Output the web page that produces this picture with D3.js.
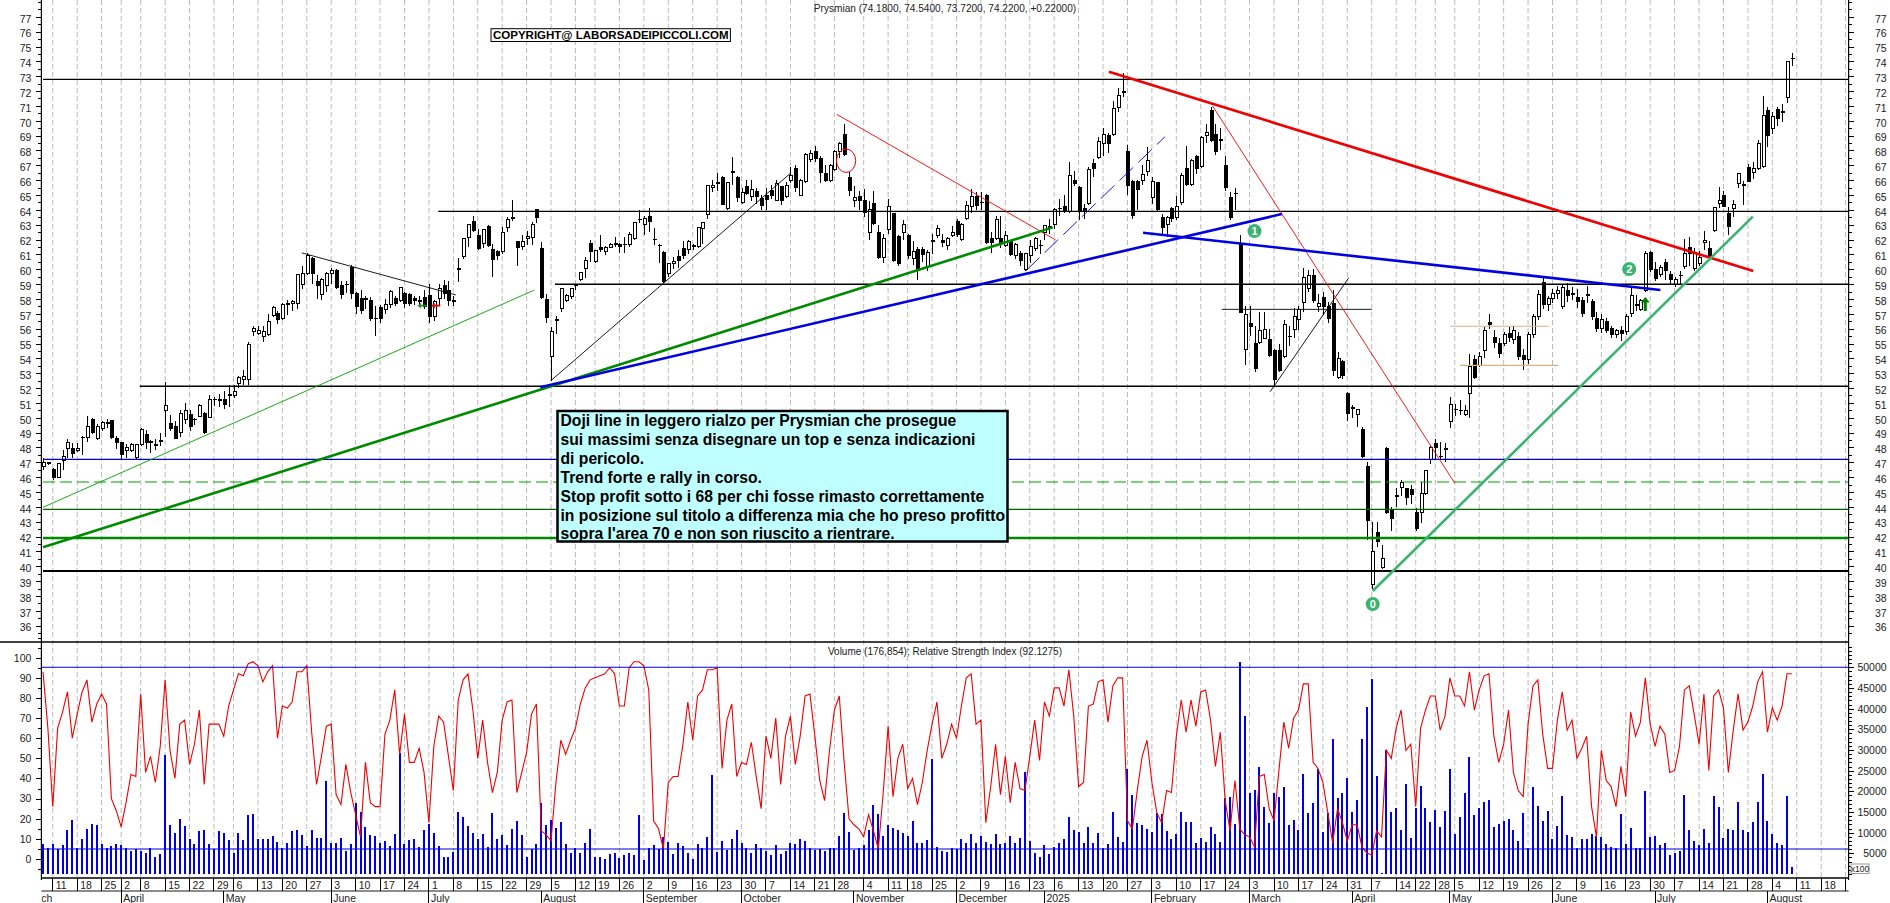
<!DOCTYPE html>
<html>
<head>
<meta charset="utf-8">
<title>Prysmian</title>
<script src="https://cdn.jsdelivr.net/npm/d3@7"></script>
<style>
html, body { margin: 0; padding: 0; background: #fff; overflow: hidden; }
svg { display: block; font-family: "Liberation Sans", Arial, sans-serif; }
.axis text { font-size: 10.5px; fill: #222; }
.axis path, .axis line { stroke: #000; shape-rendering: crispEdges; }
</style>
</head>
<body>
<div id="chart"></div>
<script>
// daily values, one column per array
const opens = [
46.75,47,46.5,46,47.1,47.9,47.9,47.8,48.7,48.7,
49.9,48.6,49.3,49.6,49.8,48.6,48.3,47.8,47.8,47.3,
48.2,48.9,48.4,48.2,48.4,50.5,49.6,49.4,49,49.9,
50.2,49.9,50.1,50.3,50,51.2,51.2,51.2,51.5,51.5,
52.3,52.6,52.6,55.8,55.7,55.5,55.6,56.9,57,56.7,
57.6,57.7,57.7,59,59.7,60.7,59.2,58.3,58.9,59.7,
59.9,58.9,59,60.1,58.4,58,58,57.9,56.7,57.4,
57.3,57.6,58,57.9,58.4,58.3,58,57.9,58.1,58.2,
56.8,58,58.9,58.6,57.9,60.05,60.84,62.14,63.2,62.3,
61.74,62.9,61.3,61.2,61.17,62.8,63.48,61.85,61.5,62.1,
62.14,64,61.4,57.95,54.15,56.6,57.36,57.92,58.15,58.95,
59.3,60.05,61.73,60.5,61.47,61.17,61.47,61.75,61.66,61.68,
61.7,62.05,63.37,63.04,63.53,62.03,61.62,61.13,59.7,60.4,
60.84,61.4,61.3,61.63,61.56,62.75,63.71,65.48,65.84,66.18,
64.09,66.58,66.2,64.5,65.55,64.9,65.25,64.77,65,65.3,
64.65,65.55,64.88,66,66.8,64.94,65.9,67.4,67.95,67.46,
66.47,66,66.7,67.9,69.1,66.2,64.65,64.9,64.6,62.5,
64.4,62.5,60.8,62.7,63.75,62.2,62.45,62.3,60.7,61.3,
61.3,60.2,61.92,62.3,61.96,61.6,62.3,63.2,62,63.4,
64.2,64.9,64.52,65,62.07,62.1,62.1,61.6,61.85,60.95,
61.05,59.95,60.9,61.4,61.62,62.5,62.85,63,64.12,64.2,
63.9,66,65.5,64.1,64.4,67.1,67.5,68.5,69,69.1,
70.9,71.97,67.9,65.9,65.9,66,66.6,64.8,65.85,63.5,
63,64.1,63.5,64.5,66.8,65.7,67.6,66.9,69,70.7,
69.1,68.72,67,64.8,65.12,61.64,54.6,56.36,54.97,55.1,
55.35,55.28,54.5,54.56,54.1,55.48,55.96,56.6,57.75,58.7,
59.6,57.5,58.1,57.5,57.7,52.7,53.8,51.6,50.66,50.25,
49.2,46.75,38.78,42.3,39.9,47.94,43.8,44.77,45.3,45.25,
45.14,43.6,43.6,44.9,47.2,48.28,47.42,47.85,49.74,50.58,
50.52,50.25,51.65,53.9,53.55,54.5,56.43,55.4,55,55,
55.7,55.3,55.5,54.2,53.9,55.6,56.8,59.1,57.6,58,
58.4,57.5,58.6,58.33,58.1,57.9,58.3,57.8,56.7,56,
56.5,56,55.6,55.9,55.8,57,57.62,57.3,58.6,61.1,
60,59.65,60.45,59.67,59,59.55,60.2,61.47,60.05,60.4,
61.8,61.4,62.63,64.43,65,63.76,64.1,65.8,65.66,66.85,
66.5,66.8,66.9,70.67,69.48,70.78,70.6,71.57,74.18];
const highs = [
47.3,47,46.6,46.9,47.8,48.6,48.3,48.3,48.75,50.1,
50,49.6,49.8,49.9,49.8,48.8,48.3,48.2,48.3,48.2,
49.3,49.2,48.5,48.6,49,52.4,50.2,49.8,50.5,51,
50.5,50,50.9,50.4,51.5,51.4,51.6,51.8,52.2,52.2,
52.8,53.2,55.1,56.2,56.2,56.2,57,57.5,57.2,57.7,
57.9,57.9,59.7,60.2,61.1,60.8,59.6,59.4,59.8,60.1,
60,59.2,59.2,60.3,58.5,58.6,58.2,58.1,57.5,57.6,
58,58.6,58.2,58.8,58.5,58.4,58.2,58.2,58.6,59,
57.9,59,59.3,59.2,58.2,60.73,62.1,63.05,63.58,62.7,
62.7,63,61.7,61.3,62.85,63.53,64.65,61.85,62.3,62.6,
63.15,64,61.85,58.3,56.1,56.85,58.7,58.3,58.7,59,
59.8,60.8,61.97,61.3,62.3,61.55,61.8,62.2,61.8,62.15,
62.5,63.2,63.98,63.6,64.1,62.75,61.7,61.2,60.4,60.85,
61.3,61.9,62,61.7,62.8,63.2,65.64,66,66.5,66.3,
65.9,67.57,66.3,65.5,66,66,65.5,65,65.5,65.7,
66,65.6,65.9,66.9,67,66.1,67.85,68,68.3,67.6,
67,67.1,68,68.6,69.8,66.56,65.6,65.3,65.4,64.6,
65.3,63,62.4,64.7,63.8,62.3,63.3,62.4,61.9,61.5,
61.5,61.3,62.4,63,62.4,62.2,62.9,63.4,63.1,64.6,
65.4,65.2,65.2,65.1,62.5,63.6,63.6,62.6,62,61.8,
61.2,61.1,62,62.2,62,63,63.4,64.1,64.7,65,
67.2,66.6,65.6,64.4,66.9,67.4,68.9,69.5,69.2,71.3,
72.2,73.2,68.4,66,66,67,68.2,66.2,65.9,63.7,
63.6,64.2,64.9,66.5,68.3,67.4,67.7,69,69.8,70.9,
69.8,69.5,67.6,65.2,65.5,62.3,57.5,57.5,56.2,57.1,
57.1,55.96,54.6,55,56.6,56.2,57.4,57.5,60.1,59.95,
60,58.3,58.5,57.8,58.6,54.45,53.9,51.76,50.85,50.6,
49.36,47,43,43,41.4,48,44,45.25,45.8,45.3,
45.5,43.9,45.7,46.5,48.1,48.6,48.4,48.3,51.4,50.95,
51.2,50.85,54.3,54.2,54.4,56.1,57,55.9,55.4,55.8,
56.1,56.2,55.8,54.6,55.8,57,58.6,59.5,58.2,58.7,
58.9,59,59.1,58.8,58.7,58.1,58.9,58,57.1,57,
56.7,56.2,56,56.2,57,58.8,58.25,58,61.2,61.2,
60.5,60.3,60.7,59.9,59.5,59.9,62.07,62.2,61.4,61.2,
62.6,61.9,64.2,65.55,65.3,64.2,64.65,66.45,65.95,67.1,
67.2,68.7,71.66,70.9,70.6,70.95,71.1,74,74.54];
const lows = [
46.5,46.8,45.8,46,46.5,47.3,47.3,47.7,47.5,48.4,
48.9,48.5,49.1,49.3,48.6,47.9,47.2,47.3,47.7,47.2,
48.1,47.9,47.6,47.8,48.1,48.7,49.1,48.6,48.7,49.6,
49.1,49.5,50.1,48.9,50,50.8,50.7,50.6,50.7,51.3,
52,52.2,52.2,55.5,55.6,55.1,55.5,56.8,56.3,56.6,
56.9,57.2,57.3,58.7,59.6,59,58,57.9,58.5,59,
58.7,58,58.4,58,57,57,57.3,56.5,55.5,56.4,
57,57.4,57.5,57.8,57.4,57.5,57.6,57.5,57.3,56.4,
56.5,57.5,58,57.5,57.5,59.15,60.7,61.5,62.5,61.3,
61.4,61.5,59.5,60.6,61,62.5,63.27,60.2,61.3,61.6,
61.6,63.1,58,56.4,52.5,55.65,57.1,57.8,58,58.6,
59.2,59.4,60.5,60.4,61.15,60.95,61.4,61.5,61.1,61.1,
61.5,62,63.1,62.3,62.5,61.6,60.4,59.05,59.5,60,
60.1,60.7,61,61.3,61.4,61.7,63.4,65.2,65.3,64.3,
64,65.7,64.5,64.4,65,64.6,64.4,64,64,64.7,
64.6,64.3,64.8,65.8,65.2,64.9,65.8,67.2,67.2,65.8,
65.9,65.9,66.6,67.5,67.6,64.9,64.2,64,63.5,62,
63,60.7,60.4,62.4,60.5,60.2,62,60.7,60.3,59.3,
60.5,59.9,61,62.1,61.5,61.3,62.2,62.2,61.9,63.3,
63.8,64,64,61.7,61.1,62,61.4,61.5,60.9,60.7,
60.2,59.9,60.4,61.2,61,62,62.4,62.7,63.6,63.8,
63.8,65.6,63.3,63.4,64.3,66.2,67.4,67.6,67.8,69,
70.6,71.6,65,63.4,64,65.7,66.3,64.4,63.9,62.4,
62.2,63.2,63.3,64.3,65.6,65.6,66.4,66.8,68.5,68.6,
67.7,68,65.3,63.3,64,57.05,53.56,55.5,53.1,54.97,
55.3,54.1,52.1,53.1,54,54.8,55.35,55.9,57.15,58.5,
57.7,57.1,56.9,56.4,52.8,52.6,52.6,49.8,50,49.36,
47.3,41.8,38.44,41.3,39.8,43.5,42.4,44,44.7,44.1,
44.2,42.4,42.9,44.8,46.9,47.2,47.16,47,49.3,50.1,
50.2,50.1,50,52.6,53.4,54,56,54.7,54,54.8,
55.1,55,53.9,53.2,53.6,55.4,56.6,57.3,57.2,57.7,
58,57.3,57.8,57.9,57.4,56.8,57.7,56.6,55.8,55.7,
55.7,55.4,55.4,55.2,55.6,56.8,57.2,57.2,58.5,59.8,
59.2,59.5,59.3,59,58.8,59,60,60.2,59.9,60.2,
61.3,60.6,62.5,64.1,64.2,62.3,63.55,65.5,64.36,65.85,
66.1,66.7,66.8,68.2,69.1,69.65,69.9,71.2,73.72];
const closes = [
47,46.9,46,46.9,47.4,48.3,47.6,47.9,48.65,49.4,
49,49.4,49.7,49.7,48.7,48.3,47.5,48,48.2,48.2,
49.2,48.3,48.35,48.15,48.45,50.8,49.3,48.6,50.3,50.5,
49.4,49.85,50.8,49,51.2,51.25,51.15,50.9,51.55,51.8,
52.7,52.8,54.9,56,55.9,55.8,56.5,57.4,56.6,57.6,
57.7,57.8,59.67,59.7,60.9,59.7,58.9,59.3,59.7,59.9,
58.8,58.3,58.95,58.4,57.5,57.2,57.95,56.7,56.65,56.7,
57.6,58.5,57.7,58.8,57.7,57.7,57.9,57.85,57.5,56.8,
57.8,58.7,58.4,57.9,57.85,60,62.07,63.02,62.6,61.4,
62.68,61.6,60.65,60.95,62.5,63.37,63.42,61.46,61.85,62.2,
63,63.5,58.1,56.75,55.79,56.55,58.7,58.26,58.7,58.9,
59.76,60.57,61.17,61.24,61.33,61.47,61.7,61.7,61.55,61.64,
62.34,63.13,63.33,63.42,63.2,61.97,61.58,59.15,60.39,60.5,
60.57,60.95,61.85,61.55,62.8,63.15,65.64,65.64,65.8,64.38,
65.82,66.52,64.83,65.17,65.1,65.4,64.88,64.32,64.7,65,
65.8,64.65,65.66,66.3,65.5,66,67.7,67.8,67.46,66.5,
66,67,67.9,68.5,67.7,65.3,64.8,64.6,63.85,64,
63.1,60.8,62.1,64.25,60.6,60.4,63,60.9,61.2,59.9,
61,61.1,61.88,62.75,61.8,62.07,62.5,62.36,63,64.3,
64.9,64.3,64.48,61.8,61.8,63.35,61.8,62.3,61,61.7,
60.6,61.05,61.5,62.07,61.58,62.97,62.75,64,64.08,63.9,
66.3,65.8,63.9,63.9,66.7,66.8,68.6,69.1,68.5,70.8,
71.7,71.93,65.66,63.6,65.4,66.4,67.3,65.9,64,62.8,
63.5,63.4,64.2,66.3,65.7,67.3,66.8,68.9,69.2,68.7,
67.9,68.68,65.5,63.5,65.08,57.1,56.97,56.14,53.3,55.9,
55.96,54.16,52.6,53.15,56.3,55.44,56.8,57.3,59.46,59.6,
57.9,57.7,57.5,56.65,53.2,54,52.84,50.3,50.62,50.57,
47.38,43.1,40.98,41.7,40.5,43.6,43.2,44.73,45.65,44.64,
44.8,42.56,44.9,46.44,48,48,47.38,47.95,50.9,50.56,
50.48,50.5,53.44,52.7,54.1,55.87,56.25,55.1,54.3,55.6,
55.4,55.9,54.1,53.9,55.6,56.8,58.3,57.6,58,58.4,
58.6,58.8,58.2,58.35,57.8,57,58.25,56.8,56,56.6,
55.9,55.6,55.9,55.7,56.8,58.2,57.58,57.9,61.06,60,
59.4,60.1,59.94,59.3,59.3,59.58,61.06,61.06,61.13,60.8,
61.96,60.84,64.16,64.6,64.25,62.9,64.36,66.45,65.68,65.9,
66.8,68.47,70.38,69,70.27,70.15,70.55,74,74.22];
const volumes = [
7300,6200,7300,6000,6900,10600,13100,6200,8500,10900,
12100,11800,7300,6200,6800,7300,6900,6200,5600,6000,
5600,5000,6400,4000,4800,28800,11900,10000,13400,11700,
8500,7300,10400,10600,7300,6000,10400,10000,8200,5200,
10000,8200,14300,14500,8500,8500,8500,9200,7700,6200,
7400,10400,10600,9400,6800,10600,8700,8700,22600,7400,
7400,8700,5600,7300,17100,14900,11400,9400,9200,7600,
8000,6800,9700,29200,7300,8200,8500,6600,10600,12100,
10000,6800,4000,4000,5400,15000,13900,11500,9800,8500,
9700,6500,14700,8500,9400,7000,10900,12800,9400,4000,
6000,7300,17100,11800,13100,11100,12600,7300,5200,6200,
5200,7600,10900,4000,4000,3700,4800,5200,3800,4600,
5000,4600,14300,3400,6200,7000,6000,8900,7800,4800,
7600,6800,5000,3600,7300,6200,8900,23900,5300,7900,
5800,8500,10600,7600,6400,5000,7300,6200,5600,4600,
6900,4800,5500,7400,7300,8500,7900,6200,5900,6000,
5600,6200,6400,9300,14800,10200,5700,6200,6900,10600,
16700,14600,9300,11800,11100,10600,9800,9200,12800,7400,
7400,8200,27700,6500,5600,5300,6200,6000,8500,7600,
9700,7600,9100,7800,7300,9700,7300,7600,9100,7600,
8700,24700,8100,5000,4000,7000,4800,6500,7400,8500,
13900,10600,10200,7400,11400,7400,9900,6400,7300,15000,
8900,7700,25500,19100,12400,11800,10900,10200,14800,14600,
10400,8500,9700,15000,12600,12600,7400,8700,7700,11400,
9700,7700,18300,18700,12100,51300,38100,19500,20300,25800,
16300,12400,19500,18700,21100,11800,13100,10600,24300,14700,
17100,25300,10200,14700,32600,18300,19500,23300,14900,17900,
32600,40300,47200,23700,300,30000,14900,15900,10600,21700,
8600,15900,21400,15900,12500,15500,11400,15200,25300,9600,
13900,19500,28200,14300,15900,17300,17900,11300,12100,12700,
13200,10600,8000,14800,6200,21000,16400,12800,15200,8500,
11600,18900,9400,9000,6200,8500,8500,9700,9300,9000,
7300,6600,6200,14600,7300,11100,6200,6200,20100,8900,
9200,6900,7400,4600,5200,5600,19100,10600,8000,6900,
10900,7500,18900,16100,8700,11000,10600,17400,10600,10200,
12600,17300,24200,12800,9600,7400,6900,18900,1769];
const rsiValues = [
93,65,26,65,73,83,60,72,83,89,
68,77,82,77,30,24,16,28,42,41,
82,43,51,38,56,89,54,40,67,69,
47,57,74,37,67,67,67,61,76,84,
92,91,97,98,96,88,93,96,60,76,
75,78,93,93,96,63,37,51,66,67,
32,27,47,33,22,11,48,28,26,26,
62,69,84,52,72,48,48,55,43,18,
56,71,68,51,34,79,89,92,74,50,
69,48,33,43,69,78,79,33,43,53,
72,77,14,12,9,38,59,52,59,65,
77,85,89,90,91,92,95,92,76,76,
95,98,98,96,84,19,15,5,38,41,
41,57,78,59,81,84,94,94,95,45,
69,77,41,48,47,58,41,25,61,50,
70,37,61,71,47,61,81,82,61,39,
29,54,74,81,48,20,17,15,11,22,
14,5,33,66,31,50,57,35,40,27,
38,54,67,78,50,57,67,60,76,90,
92,67,69,18,36,57,32,51,28,48,
35,34,51,69,49,78,71,85,85,76,
94,71,36,38,76,77,88,89,68,86,
90,90,19,15,34,51,59,38,23,18,
34,33,61,79,63,79,66,83,84,69,
46,63,29,14,39,15,12,11,6,41,
42,25,19,44,68,55,70,74,87,87,
48,45,38,23,8,25,18,9,17,17,
6,3,2,14,11,54,50,65,74,54,
57,26,65,74,81,81,64,71,90,81,
81,76,93,74,84,91,92,61,48,57,
74,43,34,31,67,86,89,62,45,45,
69,83,64,69,50,55,61,26,11,54,
39,36,26,46,31,73,61,68,90,67,
56,66,62,43,44,56,84,86,72,57,
82,44,81,84,75,43,64,82,64,68,
76,88,93,63,75,69,76,92,92];

const priceLabels = d3.range(36, 78);
const rsiLabels = d3.range(0, 101, 10);
const volumeLabels = d3.range(5000, 50001, 5000);
const weekBars = [2,7,12,16,20,25,30,35,39,44,49,54,59,64,69,74,79,84,89,94,99,104,109,113,118,
  123,128,133,138,143,148,153,158,162,168,173,177,182,187,192,197,202,207,212,217,222,227,232,237,242,247,
  252,257,262,267,272,277,281,285,289,294,299,304,309,314,319,324,329,334,339,344,349,354,359,364,369];
const weekLabels = [11,18,25,2,8,15,22,29,6,13,20,27,3,10,17,24,1,8,15,22,29,5,12,19,26,
  2,9,16,23,30,7,14,21,28,4,11,18,25,2,9,16,23,6,13,20,27,3,10,17,24,3,
  10,17,24,31,7,14,22,28,5,12,19,26,2,9,16,23,30,7,14,21,28,4,11,18,25];
const monthBars = [16,37,59,79,102,123,143,166,187,205,227,247,268,288,309,330,353];
const monthLabels = ["April","May","June","July","August","September","October","November","December","2025","February","March","April","May","June","July","August"];

// price levels and trend lines, in bar / price terms
const levels = [
  {from: 0, price: 72.79, cls: "black"},
  {from: 80.9, price: 63.9, cls: "black"},
  {from: 104.8, price: 58.99, cls: "black"},
  {from: 19.8, price: 52.12, cls: "black"},
  {from: 0, price: 47.2, cls: "navy"},
  {from: 0, price: 45.67, cls: "dashGreen"},
  {from: 0, price: 43.83, cls: "darkGreen"},
  {from: 0, price: 41.9, cls: "thickGreen"},
  {from: 0, price: 39.68, cls: "thickBlack"}
];
const trendLines = [
  {a: [53, 61.1], b: [84.5, 58.27], cls: "thinBlack"},
  {a: [103.9, 52.48], b: [153, 66.46], cls: "thinBlack"},
  {a: [251.2, 51.75], b: [267.3, 59.43], cls: "thinBlack"},
  {a: [241.3, 57.3], b: [272, 57.3], cls: "thinBlack"},
  {a: [0, 43.97], b: [100.6, 58.6], cls: "thinGreen"},
  {a: [201.2, 59.9], b: [229.7, 68.93], cls: "dashBlue"},
  {a: [162.5, 70.43], b: [207.3, 61.97], cls: "thinRed"},
  {a: [239.4, 71], b: [289, 45.59], cls: "thinRed"},
  {a: [288, 56.16], b: [308.3, 56.16], cls: "tan"},
  {a: [290, 53.53], b: [310.2, 53.53], cls: "tan"},
  {a: [0, 41.28], b: [206.7, 62.82], cls: "thickGreen"},
  {a: [101.8, 52.05], b: [253.6, 63.72], cls: "thickBlue"},
  {a: [225.2, 62.46], b: [331.1, 58.6], cls: "thickBlue"},
  {a: [218.2, 73.3], b: [350.1, 59.88], cls: "thickRed"},
  {a: [272.2, 38.33], b: [350, 63.54], cls: "teal"}
];
const waveMarks = [
  {bar: 272.2, price: 37.45, label: "0"},
  {bar: 248, price: 62.57, label: "1"},
  {bar: 324.7, price: 60.02, label: "2"}
];
const noteLines = [
  "Doji line in leggero rialzo per Prysmian che prosegue",
  "sui massimi senza disegnare un top e senza indicazioni",
  "di pericolo.",
  "Trend forte e rally in corso.",
  "Stop profit sotto i 68 per chi fosse rimasto correttamente",
  "in posizione sul titolo a differenza mia che ho preso profitto",
  "sopra l'area 70 e non son riuscito a rientrare."
];

const lineStyles = {
  black: {stroke: "#000", width: 1.3},
  navy: {stroke: "#0000c8", width: 1.1},
  dashGreen: {stroke: "#00a000", width: 1.1, dash: "12,5"},
  darkGreen: {stroke: "#006400", width: 1.1},
  thickGreen: {stroke: "#008a00", width: 2.6},
  thickBlack: {stroke: "#000", width: 2.2},
  thinBlack: {stroke: "#000", width: 0.9},
  thinGreen: {stroke: "#00a000", width: 0.9},
  dashBlue: {stroke: "#0000e0", width: 0.9, dash: "19,7"},
  thinRed: {stroke: "#f00000", width: 0.9},
  tan: {stroke: "#d8b088", width: 1.1},
  thickBlue: {stroke: "#0000e0", width: 2.6},
  thickRed: {stroke: "#f00000", width: 2.7},
  teal: {stroke: "#3cb371", width: 2.6}
};

const width = 1890, height = 903;
const axisLeftX = 41.4, axisRightX = 1848.6;
const panelSplit = 642, panelBottom = 878, dateSplit = 891;

const x = d3.scaleLinear().domain([0, 369]).range([43, 1845.6]);
const y = d3.scaleLinear().domain([77, 36]).range([16.8, 625.65]);
const yRsi = d3.scaleLinear().domain([0, 100]).range([859, 657.7]);
const yVol = d3.scaleLinear().domain([0, 50000]).range([874, 667.3]);

const svg = d3.select("#chart").append("svg")
  .attr("width", width).attr("height", height);

svg.append("defs").append("clipPath").attr("id", "plot")
  .append("rect").attr("x", axisLeftX).attr("y", 0)
  .attr("width", axisRightX - axisLeftX).attr("height", height);

// week grid
svg.append("g").selectAll("line").data(weekBars).enter().append("line")
  .attr("x1", d => x(d)).attr("x2", d => x(d))
  .attr("y1", 0).attr("y2", panelBottom)
  .attr("stroke", "#bbb").attr("stroke-dasharray", "5,3")
  .attr("clip-path", "url(#plot)");

// candles
const bars = d3.range(opens.length);
const px = i => Math.round(x(i)) + 0.5;
const candles = svg.append("g").attr("shape-rendering", "crispEdges");
candles.selectAll("line").data(bars).enter().append("line")
  .attr("x1", px).attr("x2", px)
  .attr("y1", i => y(highs[i])).attr("y2", i => y(lows[i]))
  .attr("stroke", "#000");
candles.selectAll("rect").data(bars).enter().append("rect")
  .attr("x", i => px(i) - 1.5).attr("width", 3)
  .attr("y", i => y(Math.max(opens[i], closes[i])))
  .attr("height", i => Math.max(0.5, Math.abs(y(opens[i]) - y(closes[i]))))
  .attr("fill", i => closes[i] >= opens[i] ? "#fff" : "#000")
  .attr("stroke", "#000");

// horizontal levels and trend lines sit on top of the candles
const notes = svg.append("g").attr("clip-path", "url(#plot)");
function styled(sel, key) {
  const s = lineStyles[key];
  sel.attr("stroke", s.stroke).attr("stroke-width", s.width).attr("fill", "none");
  if (s.dash) sel.attr("stroke-dasharray", s.dash);
  return sel;
}
levels.forEach(l => {
  styled(notes.append("line"), l.cls)
    .attr("x1", x(l.from)).attr("x2", axisRightX)
    .attr("y1", y(l.price)).attr("y2", y(l.price));
});
trendLines.forEach(t => {
  styled(notes.append("line"), t.cls)
    .attr("x1", x(t.a[0])).attr("y1", y(t.a[1]))
    .attr("x2", x(t.b[0])).attr("y2", y(t.b[1]));
});

// red ring
notes.append("ellipse")
  .attr("cx", x(164.4)).attr("cy", y(67.31))
  .attr("rx", 9.6).attr("ry", 11.7)
  .attr("fill", "none").attr("stroke", "#f00000");

// wave count badges
const badges = svg.append("g").selectAll("g").data(waveMarks).enter().append("g")
  .attr("transform", d => `translate(${x(d.bar)},${y(d.price)})`);
badges.append("circle").attr("r", 7).attr("fill", "#3cb371");
badges.append("text").text(d => d.label)
  .attr("text-anchor", "middle").attr("dy", 4)
  .attr("font-size", 11).attr("font-weight", "bold").attr("fill", "#fff");

// small arrows
function arrow(bar, price, color, angle, size) {
  svg.append("path")
    .attr("d", "M0,-7 L4.5,-1.5 L1.5,-1.5 L1.5,7 L-1.5,7 L-1.5,-1.5 L-4.5,-1.5 Z")
    .attr("transform", `translate(${x(bar)},${y(price)}) rotate(${angle}) scale(${size})`)
    .attr("fill", color);
}
arrow(328, 57.66, "#008000", 0, 1);
arrow(77.6, 57.55, "#2e8b2e", -90, 0.65);
arrow(80.4, 57.55, "#f00000", -90, 0.65);

// comment box
svg.append("rect").attr("x", 557.5).attr("y", 411)
  .attr("width", 450).attr("height", 130.5)
  .attr("fill", "#bfffff").attr("stroke", "#000").attr("stroke-width", 2.5);
svg.append("g").selectAll("text").data(noteLines).enter().append("text")
  .attr("x", 560.5).attr("y", (d, i) => 426 + i * 18.9)
  .attr("font-size", 15.7).attr("font-weight", "bold").attr("fill", "#000")
  .text(d => d);

// copyright box
svg.append("rect").attr("x", 491).attr("y", 28.7)
  .attr("width", 239.4).attr("height", 12.8)
  .attr("fill", "#fff").attr("stroke", "#000");
svg.append("text").attr("x", 493).attr("y", 39.3)
  .attr("font-size", 11.5).attr("font-weight", "bold").attr("fill", "#000")
  .text("COPYRIGHT@ LABORSADEIPICCOLI.COM");

// lower panel
const vbars = svg.append("g").attr("shape-rendering", "crispEdges");
vbars.selectAll("rect").data(volumes).enter().append("rect")
  .attr("x", (d, i) => Math.round(x(i)) - 1).attr("width", 2)
  .attr("y", d => yVol(d)).attr("height", d => yVol(0) - yVol(d))
  .attr("fill", "#0000e6");

svg.append("path").datum(rsiValues)
  .attr("d", d3.line().x((d, i) => x(i)).y(d => yRsi(d)))
  .attr("fill", "none").attr("stroke", "#f00000").attr("stroke-width", 1.1);

[50000, 6040].forEach(v => {
  svg.append("line").attr("x1", axisLeftX).attr("x2", axisRightX)
    .attr("y1", yVol(v)).attr("y2", yVol(v))
    .attr("stroke", "#0000d8").attr("stroke-width", 1.1);
});

// panel frames
const frame = svg.append("g").attr("stroke", "#000");
frame.append("line").attr("x1", 0).attr("x2", axisRightX).attr("y1", panelSplit).attr("y2", panelSplit).attr("stroke-width", 1.3);
frame.append("line").attr("x1", axisLeftX).attr("x2", axisRightX).attr("y1", panelBottom).attr("y2", panelBottom).attr("stroke-width", 1.3);
frame.append("line").attr("x1", axisLeftX).attr("x2", axisRightX).attr("y1", dateSplit).attr("y2", dateSplit).attr("stroke-width", 0.9);

// value axes
function drawAxis(axis, tx, cls) {
  const g = svg.append("g").attr("class", "axis " + (cls || ""))
    .attr("transform", `translate(${tx},0)`).call(axis);
  g.select(".domain").remove();
  return g;
}
const priceMinor = d3.range(35.5, 78.5, 0.5);
const fmtNone = () => "";
[[d3.axisLeft, axisLeftX], [d3.axisRight, axisRightX]].forEach(([mk, tx]) => {
  drawAxis(mk(y).tickValues(priceMinor).tickSize(3).tickFormat(fmtNone), tx);
  const g = drawAxis(mk(y).tickValues(priceLabels).tickSize(5).tickPadding(5).tickFormat(d3.format("d")), tx);
  g.selectAll("text").attr("dy", "0.5em");
  if (mk === d3.axisRight) g.selectAll("text").attr("text-anchor", "end").attr("x", 38);
});
drawAxis(d3.axisLeft(yRsi).tickValues(d3.range(-5, 111, 5)).tickSize(3).tickFormat(fmtNone), axisLeftX);
drawAxis(d3.axisLeft(yRsi).tickValues(rsiLabels).tickSize(5).tickPadding(5).tickFormat(d3.format("d")), axisLeftX);
drawAxis(d3.axisRight(yVol).tickValues(d3.range(0, 55001, 1000)).tickSize(3).tickFormat(fmtNone), axisRightX);
const volAxis = drawAxis(d3.axisRight(yVol).tickValues(volumeLabels).tickSize(5).tickPadding(5).tickFormat(d3.format("d")), axisRightX);
volAxis.selectAll("text").attr("text-anchor", "end").attr("x", 38);

[axisLeftX, axisRightX].forEach(ax => {
  svg.append("line").attr("x1", ax).attr("x2", ax).attr("y1", 0).attr("y2", panelBottom + 2)
    .attr("stroke", "#000").attr("stroke-width", 1.2);
});

// date rows
const dates = svg.append("g").attr("clip-path", "url(#plot)").attr("class", "axis");
dates.selectAll("line.week").data(weekBars).enter().append("line").attr("class", "week")
  .attr("x1", d => x(d)).attr("x2", d => x(d))
  .attr("y1", panelBottom).attr("y2", dateSplit);
dates.selectAll("text.week").data(weekBars).enter().append("text").attr("class", "week")
  .attr("x", d => x(d) + 3).attr("y", 889)
  .text((d, i) => weekLabels[i]);
dates.selectAll("line.month").data(monthBars).enter().append("line").attr("class", "month")
  .attr("x1", d => x(d)).attr("x2", d => x(d))
  .attr("y1", dateSplit).attr("y2", height);
dates.selectAll("text.month").data(monthBars).enter().append("text").attr("class", "month")
  .attr("x", d => x(d) + 2).attr("y", 902)
  .text((d, i) => monthLabels[i]);
dates.append("text").attr("x", 52.4).attr("y", 902).attr("text-anchor", "end").text("March");

// titles
svg.append("text").attr("x", 945).attr("y", 12).attr("text-anchor", "middle")
  .attr("font-size", 10.1).attr("fill", "#222")
  .text("Prysmian (74.1800, 74.5400, 73.7200, 74.2200, +0.22000)");
svg.append("text").attr("x", 945).attr("y", 654.5).attr("text-anchor", "middle")
  .attr("font-size", 10).attr("fill", "#222")
  .text("Volume (176,854); Relative Strength Index (92.1275)");

// scale multiplier tag
svg.append("rect").attr("x", 1851).attr("y", 864).attr("width", 18).attr("height", 9.5)
  .attr("fill", "#fff").attr("stroke", "#999");
svg.append("text").attr("x", 1860).attr("y", 872).attr("text-anchor", "middle")
  .attr("font-size", 8.5).attr("fill", "#222").text("x100");
</script>
</body>
</html>
